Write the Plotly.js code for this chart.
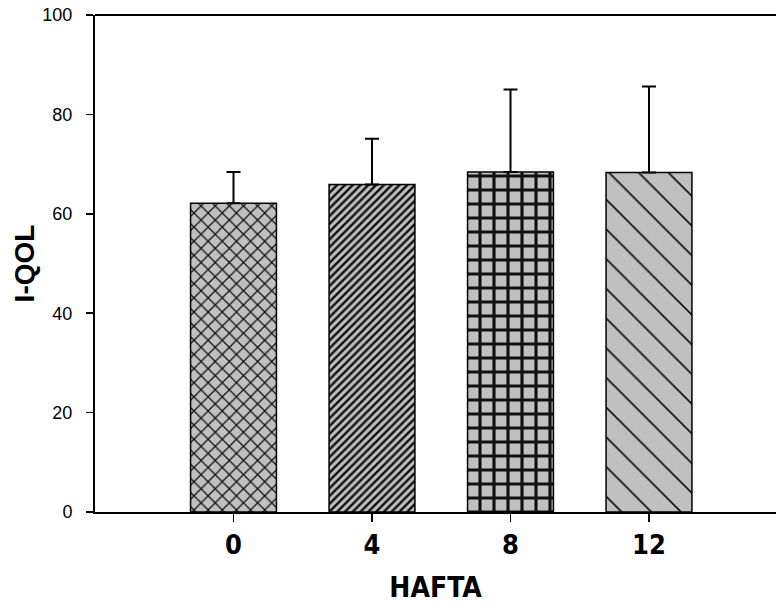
<!DOCTYPE html>
<html>
<head>
<meta charset="utf-8">
<script src="https://cdn.plot.ly/plotly-3.0.1.min.js"></script>
<style>html,body{margin:0;padding:0;background:#fff;overflow:hidden}</style>
</head>
<body>
<div id="chart" style="width:776px;height:611px"></div>
<script>
const categories = ['0', '4', '8', '12'];
const means = [62.1, 65.9, 68.4, 68.3];
const errorsUp = [6.3, 9.2, 16.6, 17.3];
const errorsDown = [0, 0, 0, 0];
const patternShapes = ['x', '/', '+', '\\'];
const patternSizes = [10, 5.5, 14, 21];
const patternSolidity = [0.24, 0.45, 0.4, 0.08];
const yTicks = [0, 20, 40, 60, 80, 100];

const trace = {
  type: 'bar',
  x: categories,
  y: means,
  width: 0.62,
  marker: {
    color: '#c0c0c0',
    line: {color: '#000', width: 1.5},
    pattern: {
      shape: patternShapes,
      size: patternSizes,
      solidity: patternSolidity,
      fgcolor: '#111',
      bgcolor: '#c0c0c0',
      fillmode: 'replace'
    }
  },
  error_y: {
    type: 'data',
    symmetric: false,
    array: errorsUp,
    arrayminus: errorsDown,
    color: '#000',
    thickness: 2,
    width: 7
  },
  hoverinfo: 'skip'
};

const narrowBold = '"DejaVu Sans Condensed", "Liberation Sans Narrow", "Liberation Sans", Arial, sans-serif';

const layout = {
  width: 776,
  height: 611,
  margin: {l: 95, r: 0, t: 15, b: 99},
  paper_bgcolor: '#fff',
  plot_bgcolor: '#fff',
  showlegend: false,
  xaxis: {
    type: 'category',
    range: [-1, 3.917],
    showline: true,
    linecolor: '#000',
    linewidth: 2,
    ticks: 'outside',
    ticklen: 8,
    tickwidth: 1.5,
    tickcolor: '#000',
    showgrid: false,
    zeroline: false,
    tickfont: {family: narrowBold, size: 27, color: '#000', weight: 'bold'},
    title: {text: 'HAFTA', standoff: 18, font: {family: narrowBold, size: 28, color: '#000', weight: 'bold'}}
  },
  yaxis: {
    range: [0, 100],
    tickvals: yTicks,
    showline: true,
    linecolor: '#000',
    linewidth: 2,
    ticks: 'outside',
    ticklen: 7,
    tickwidth: 1.5,
    tickcolor: '#000',
    ticklabelstandoff: 10,
    showgrid: false,
    zeroline: false,
    automargin: true,
    tickfont: {family: '"Liberation Sans", Arial, sans-serif', size: 18, color: '#000'},
    title: {text: 'I-QOL', standoff: 0, font: {family: '"Liberation Sans", Arial, sans-serif', size: 28, color: '#000', weight: 'bold'}}
  },
  shapes: [{
    type: 'line', xref: 'paper', yref: 'paper',
    x0: 0, x1: 1, y0: 1, y1: 1,
    line: {color: '#000', width: 2}
  }]
};

Plotly.newPlot('chart', [trace], layout, {staticPlot: true, displayModeBar: false});
</script>
</body>
</html>
